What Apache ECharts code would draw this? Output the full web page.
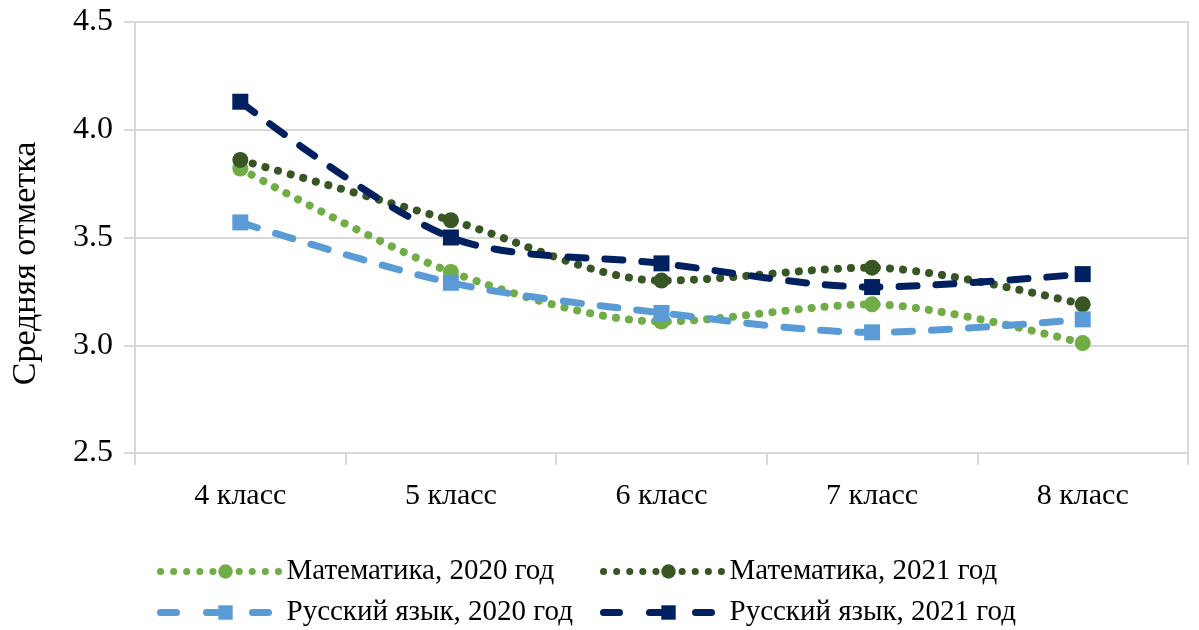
<!DOCTYPE html>
<html>
<head>
<meta charset="utf-8">
<script src="https://cdn.jsdelivr.net/npm/echarts@6/dist/echarts.min.js"></script>
<style>
  html, body { margin: 0; padding: 0; background: #fff; }
  #chart { width: 1199px; height: 630px; }
</style>
</head>
<body>
<div id="chart"></div>
<script>
  // данные
  var categories = ['4 класс', '5 класс', '6 класс', '7 класс', '8 класс'];
  var math2020 = [3.82, 3.34, 3.11, 3.19, 3.01];
  var math2021 = [3.86, 3.58, 3.30, 3.36, 3.19];
  var rus2020 = [3.57, 3.29, 3.15, 3.06, 3.12];
  var rus2021 = [4.13, 3.50, 3.38, 3.27, 3.33];
  var names = ['Математика, 2020 год', 'Математика, 2021 год', 'Русский язык, 2020 год', 'Русский язык, 2021 год'];

  var font = 'Liberation Serif';
  var grey = '#d9d9d9';

  function dotted(name, data, color) {
    return {
      name: name, type: 'line', data: data, smooth: 0.3,
      symbol: 'circle', symbolSize: 16,
      itemStyle: { color: color },
      lineStyle: { color: color, width: 8, type: [0.1, 13], cap: 'round' }
    };
  }
  function dashed(name, data, color) {
    return {
      name: name, type: 'line', data: data, smooth: 0.3,
      symbol: 'rect', symbolSize: 16,
      itemStyle: { color: color },
      lineStyle: { color: color, width: 7, type: [18, 19], cap: 'round' }
    };
  }

  // легенда: две колонки по два элемента
  function legendItem(name, left, top, dash) {
    return {
      left: left, top: top, data: [name],
      itemWidth: 130, itemHeight: 18,
      lineStyle: { width: 7, type: dash },
      textStyle: { fontFamily: font, fontSize: 29, color: '#000', padding: [0, 0, 0, -9] }
    };
  }

  var chart = echarts.init(document.getElementById('chart'));
  chart.setOption({
    animation: false,
    grid: { left: 135, right: 11, top: 22, bottom: 177, outerBoundsMode: 'none' },
    legend: [
      legendItem(names[0], 152, 552, [0.1, 13]),
      legendItem(names[1], 595, 552, [0.1, 13]),
      legendItem(names[2], 152, 593, [16, 30]),
      legendItem(names[3], 595, 593, [16, 30])
    ],
    xAxis: {
      type: 'category', data: categories, boundaryGap: true,
      axisLine: { lineStyle: { color: grey, width: 2 } },
      axisTick: { show: true, length: 12, lineStyle: { color: grey, width: 2 } },
      axisLabel: { fontFamily: font, fontSize: 30, color: '#000', margin: 28 }
    },
    yAxis: [{
      type: 'value', min: 2.5, max: 4.5, interval: 0.5,
      name: 'Средняя отметка', nameLocation: 'middle', nameGap: 92, nameRotate: 90,
      nameTextStyle: { fontFamily: font, fontSize: 34, color: '#000', padding: [0, 52, 0, 0] },
      axisLine: { show: true, lineStyle: { color: grey, width: 2 } },
      axisTick: { show: true, length: 11, lineStyle: { color: grey, width: 2 } },
      splitLine: { lineStyle: { color: grey, width: 2 } },
      axisLabel: {
        fontFamily: font, fontSize: 32, color: '#000', margin: 22,
        formatter: function (v) { return v.toFixed(1); }
      }
    }, {
      type: 'value', min: 2.5, max: 4.5, interval: 0.5, position: 'right',
      axisLine: { show: true, lineStyle: { color: grey, width: 2 } },
      axisTick: { show: false }, axisLabel: { show: false }, splitLine: { show: false }
    }],
    series: [
      dotted(names[0], math2020, '#70ad47'),
      dotted(names[1], math2021, '#375623'),
      dashed(names[2], rus2020, '#5b9bd5'),
      dashed(names[3], rus2021, '#002060')
    ]
  });
</script>
</body>
</html>
